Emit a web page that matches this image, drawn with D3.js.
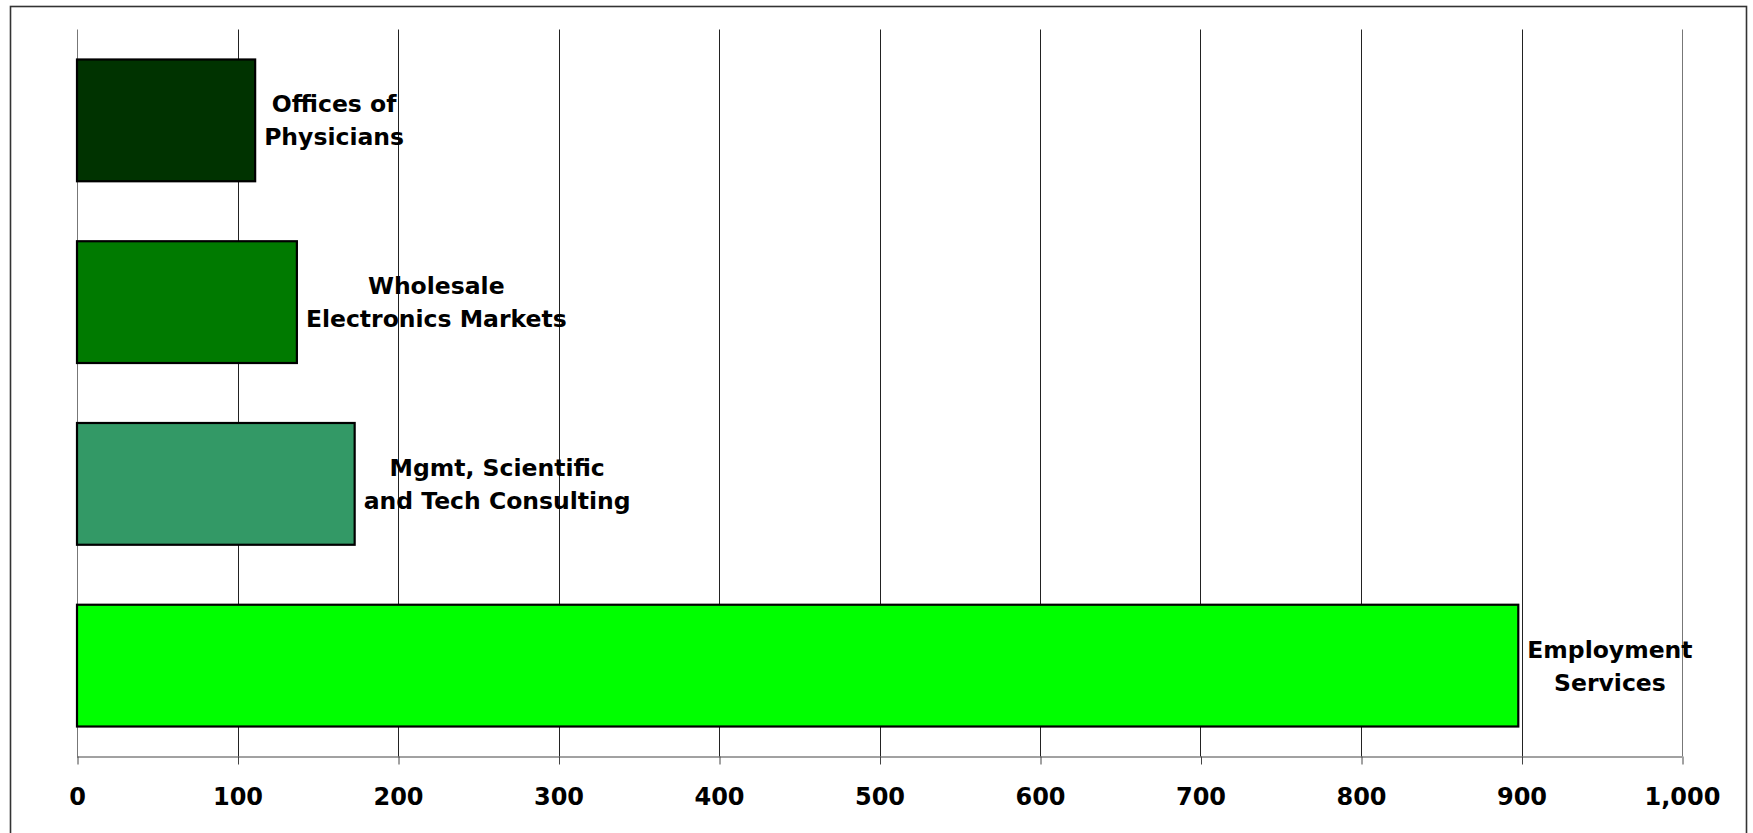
<!DOCTYPE html>
<html>
<head>
<meta charset="utf-8">
<script src="https://cdn.jsdelivr.net/npm/d3@7"></script>
<style>
  html, body { margin: 0; padding: 0; background: #fff; }
  svg { display: block; }
  text { font-family: "DejaVu Sans", Verdana, sans-serif; font-weight: bold; fill: #000; }
</style>
</head>
<body>
<svg id="chart" width="1753" height="833"></svg>
<script>
// ---- Data (top to bottom) ----
const categories = [
  ["Offices of", "Physicians"],
  ["Wholesale", "Electronics Markets"],
  ["Mgmt, Scientific", "and Tech Consulting"],
  ["Employment", "Services"]
];
const values = [111, 137, 173, 898];
const barColors = ["#003300", "#007A00", "#339966", "#00FF00"];
const tickValues = [0, 100, 200, 300, 400, 500, 600, 700, 800, 900, 1000];

// ---- Layout ----
const svg = d3.select("#chart");
const plot = { left: 77, right: 1682, top: 29.5, bottom: 756.5 };

// outer frame (bottom edge runs off the picture)
svg.append("rect")
  .attr("x", 10.5).attr("y", 6.5)
  .attr("width", 1736).attr("height", 860)
  .attr("fill", "#fff").attr("stroke", "#333").attr("stroke-width", 1.6);

const x = d3.scaleLinear().domain([0, 1000]).range([plot.left, plot.right]);
const y = d3.scaleBand()
  .domain(d3.range(categories.length))
  .range([plot.top, plot.bottom])
  .paddingInner(0.33).paddingOuter(0.165);

// gridlines
svg.append("g")
  .selectAll("line")
  .data(tickValues)
  .join("line")
  .attr("x1", d => Math.round(x(d)) + 0.5)
  .attr("x2", d => Math.round(x(d)) + 0.5)
  .attr("y1", plot.top)
  .attr("y2", plot.bottom)
  .attr("stroke", (d, i) => (i === 0 || i === tickValues.length - 1) ? "#777" : "#222")
  .attr("stroke-width", 1);

// x axis
const axis = d3.axisBottom(x)
  .tickValues(tickValues)
  .tickSize(8)
  .tickPadding(23.5)
  .tickFormat(d3.format(","));
const gAxis = svg.append("g")
  .attr("transform", `translate(0,${plot.bottom})`)
  .call(axis);
gAxis.select(".domain").attr("stroke", "#444").attr("stroke-width", 1)
  .attr("d", `M${plot.left},0.5H${plot.right}`);
gAxis.selectAll(".tick line").attr("stroke", "#444")
  .attr("transform", "translate(0.5,0)");
gAxis.selectAll(".tick text")
  .style("font-family", '"DejaVu Sans", Verdana, sans-serif')
  .style("font-weight", "bold")
  .style("font-size", "24px")
  .attr("fill", "#000");

// bars
svg.append("g")
  .selectAll("rect")
  .data(values)
  .join("rect")
  .attr("x", x(0))
  .attr("y", (d, i) => y(i))
  .attr("width", d => x(d) - x(0))
  .attr("height", y.bandwidth())
  .attr("fill", (d, i) => barColors[i])
  .attr("stroke", "#000")
  .attr("stroke-width", 2.2);

// labels to the right of each bar
const lineGap = 33;
const labelG = svg.append("g");
categories.forEach((lines, i) => {
  const cy = y(i) + y.bandwidth() / 2;
  const t = labelG.append("text")
    .attr("text-anchor", "middle")
    .style("font-size", "23.5px");
  lines.forEach((ln, k) => {
    t.append("tspan")
      .attr("x", 0)
      .attr("y", cy - lineGap / 2 + 8.6 + k * lineGap)
      .text(ln);
  });
  let maxW = 0;
  t.selectAll("tspan").each(function() {
    maxW = Math.max(maxW, this.getComputedTextLength());
  });
  const cx = x(values[i]) + 9 + maxW / 2;
  t.selectAll("tspan").attr("x", cx);
});
</script>
</body>
</html>
